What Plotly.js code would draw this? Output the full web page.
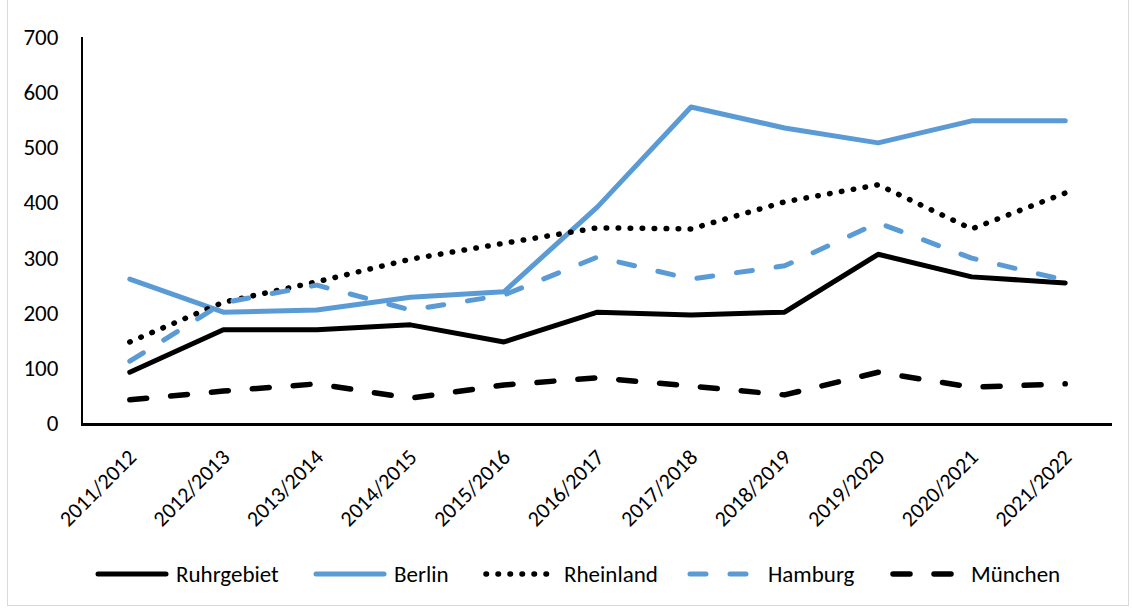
<!DOCTYPE html>
<html>
<head>
<meta charset="utf-8">
<script src="https://cdn.plot.ly/plotly-3.0.1.min.js"></script>
<style>
  html, body { margin: 0; padding: 0; background: #fff; }
  #wrap { position: relative; width: 1133px; height: 610px; }
  #chart { width: 1133px; height: 610px; }
  #frame { position: absolute; left: 7px; top: -2px; width: 1122px; height: 608px; border: 1px solid #d9d9d9; pointer-events: none; box-sizing: border-box; }
  .scatterlayer .js-line { stroke-linecap: round; stroke-linejoin: round; }
  .shapelayer path { stroke-linecap: round; }
</style>
</head>
<body>
<div id="wrap">
  <div id="chart"></div>
  <div id="frame"></div>
</div>
<script>
// ---- data ----
var categories = ["2011/2012","2012/2013","2013/2014","2014/2015","2015/2016","2016/2017","2017/2018","2018/2019","2019/2020","2020/2021","2021/2022"];
var ruhrgebiet = [92, 169, 169, 178, 147, 201, 196, 201, 306, 265, 254];
var berlin     = [261, 201, 205, 228, 238, 392, 573, 535, 508, 548, 548];
var rheinland  = [147, 219, 256, 297, 326, 354, 352, 401, 432, 352, 417];
var hamburg    = [112, 218, 250, 205, 232, 301, 261, 285, 363, 299, 259];
var muenchen   = [42, 58, 71, 45, 69, 82, 67, 51, 92, 65, 71];
var seriesNames = ["Ruhrgebiet","Berlin","Rheinland","Hamburg","München"];
var yTicks = [0,100,200,300,400,500,600,700];

// ---- styles ----
var FONT = "Carlito, Calibri, Lato, sans-serif";
var FS_LEG = 23, FS_X = 22, FS_Y = 23;
var styles = [
  {color:"#000000", width:5,   dash:"solid"},
  {color:"#5b9bd5", width:5,   dash:"solid"},
  {color:"#000000", width:5.5, dash:"0.5px,11.5px"},
  {color:"#5b9bd5", width:5,   dash:"16px,24px"},
  {color:"#000000", width:5.5, dash:"17px,24px"}
];
var seriesData = [ruhrgebiet, berlin, rheinland, hamburg, muenchen];

var traces = seriesData.map(function(vals, i){
  return {
    type:"scatter", mode:"lines", x:categories, y:vals, name:seriesNames[i],
    line:{color:styles[i].color, width:styles[i].width, dash:styles[i].dash},
    showlegend:false, hoverinfo:"skip"
  };
});

// plot area in pixels
var W = 1133, H = 610, L = 83, R = 1112, T = 37, B = 423;
function px2x(px){ return (px - L) / (R - L); }
function py2y(py){ return (B - py) / (B - T); }

// custom legend
var legendStart = [98, 316, 486, 690, 893];
var legendY = 574, lineLen = 68, textGap = 8;
var shapes = [], annotations = [];
seriesNames.forEach(function(n, i){
  var x0 = legendStart[i];
  shapes.push({type:"line", xref:"paper", yref:"paper",
    x0:px2x(x0), x1:px2x(x0+lineLen), y0:py2y(legendY), y1:py2y(legendY),
    line:{color:styles[i].color, width:styles[i].width, dash:styles[i].dash}});
  annotations.push({xref:"paper", yref:"paper", x:px2x(x0+lineLen+textGap), y:py2y(legendY),
    xanchor:"left", yanchor:"middle", showarrow:false, text:n,
    font:{family:FONT, size:FS_LEG, color:"#000"}});
});

var layout = {
  width:W, height:H,
  margin:{l:L, r:W-R, t:T, b:H-B, pad:0},
  paper_bgcolor:"#fff", plot_bgcolor:"#fff",
  font:{family:FONT, size:FS_Y, color:"#000"},
  showlegend:false,
  xaxis:{
    type:"category", tickangle:-45, showgrid:false, zeroline:false,
    showline:true, linecolor:"#000", linewidth:2.5,
    ticks:"", ticklabelstandoff:10,
    tickfont:{family:FONT, size:FS_X, color:"#000"},
    range:[-0.5, categories.length-0.5], fixedrange:true
  },
  yaxis:{
    range:[0,700], tickvals:yTicks, showgrid:false, zeroline:false,
    showline:true, linecolor:"#000", linewidth:2,
    ticks:"", ticklabelstandoff:18,
    tickfont:{family:FONT, size:FS_Y, color:"#000"}, fixedrange:true
  },
  shapes:shapes, annotations:annotations
};

Plotly.newPlot("chart", traces, layout, {staticPlot:true, displayModeBar:false});
</script>
</body>
</html>
